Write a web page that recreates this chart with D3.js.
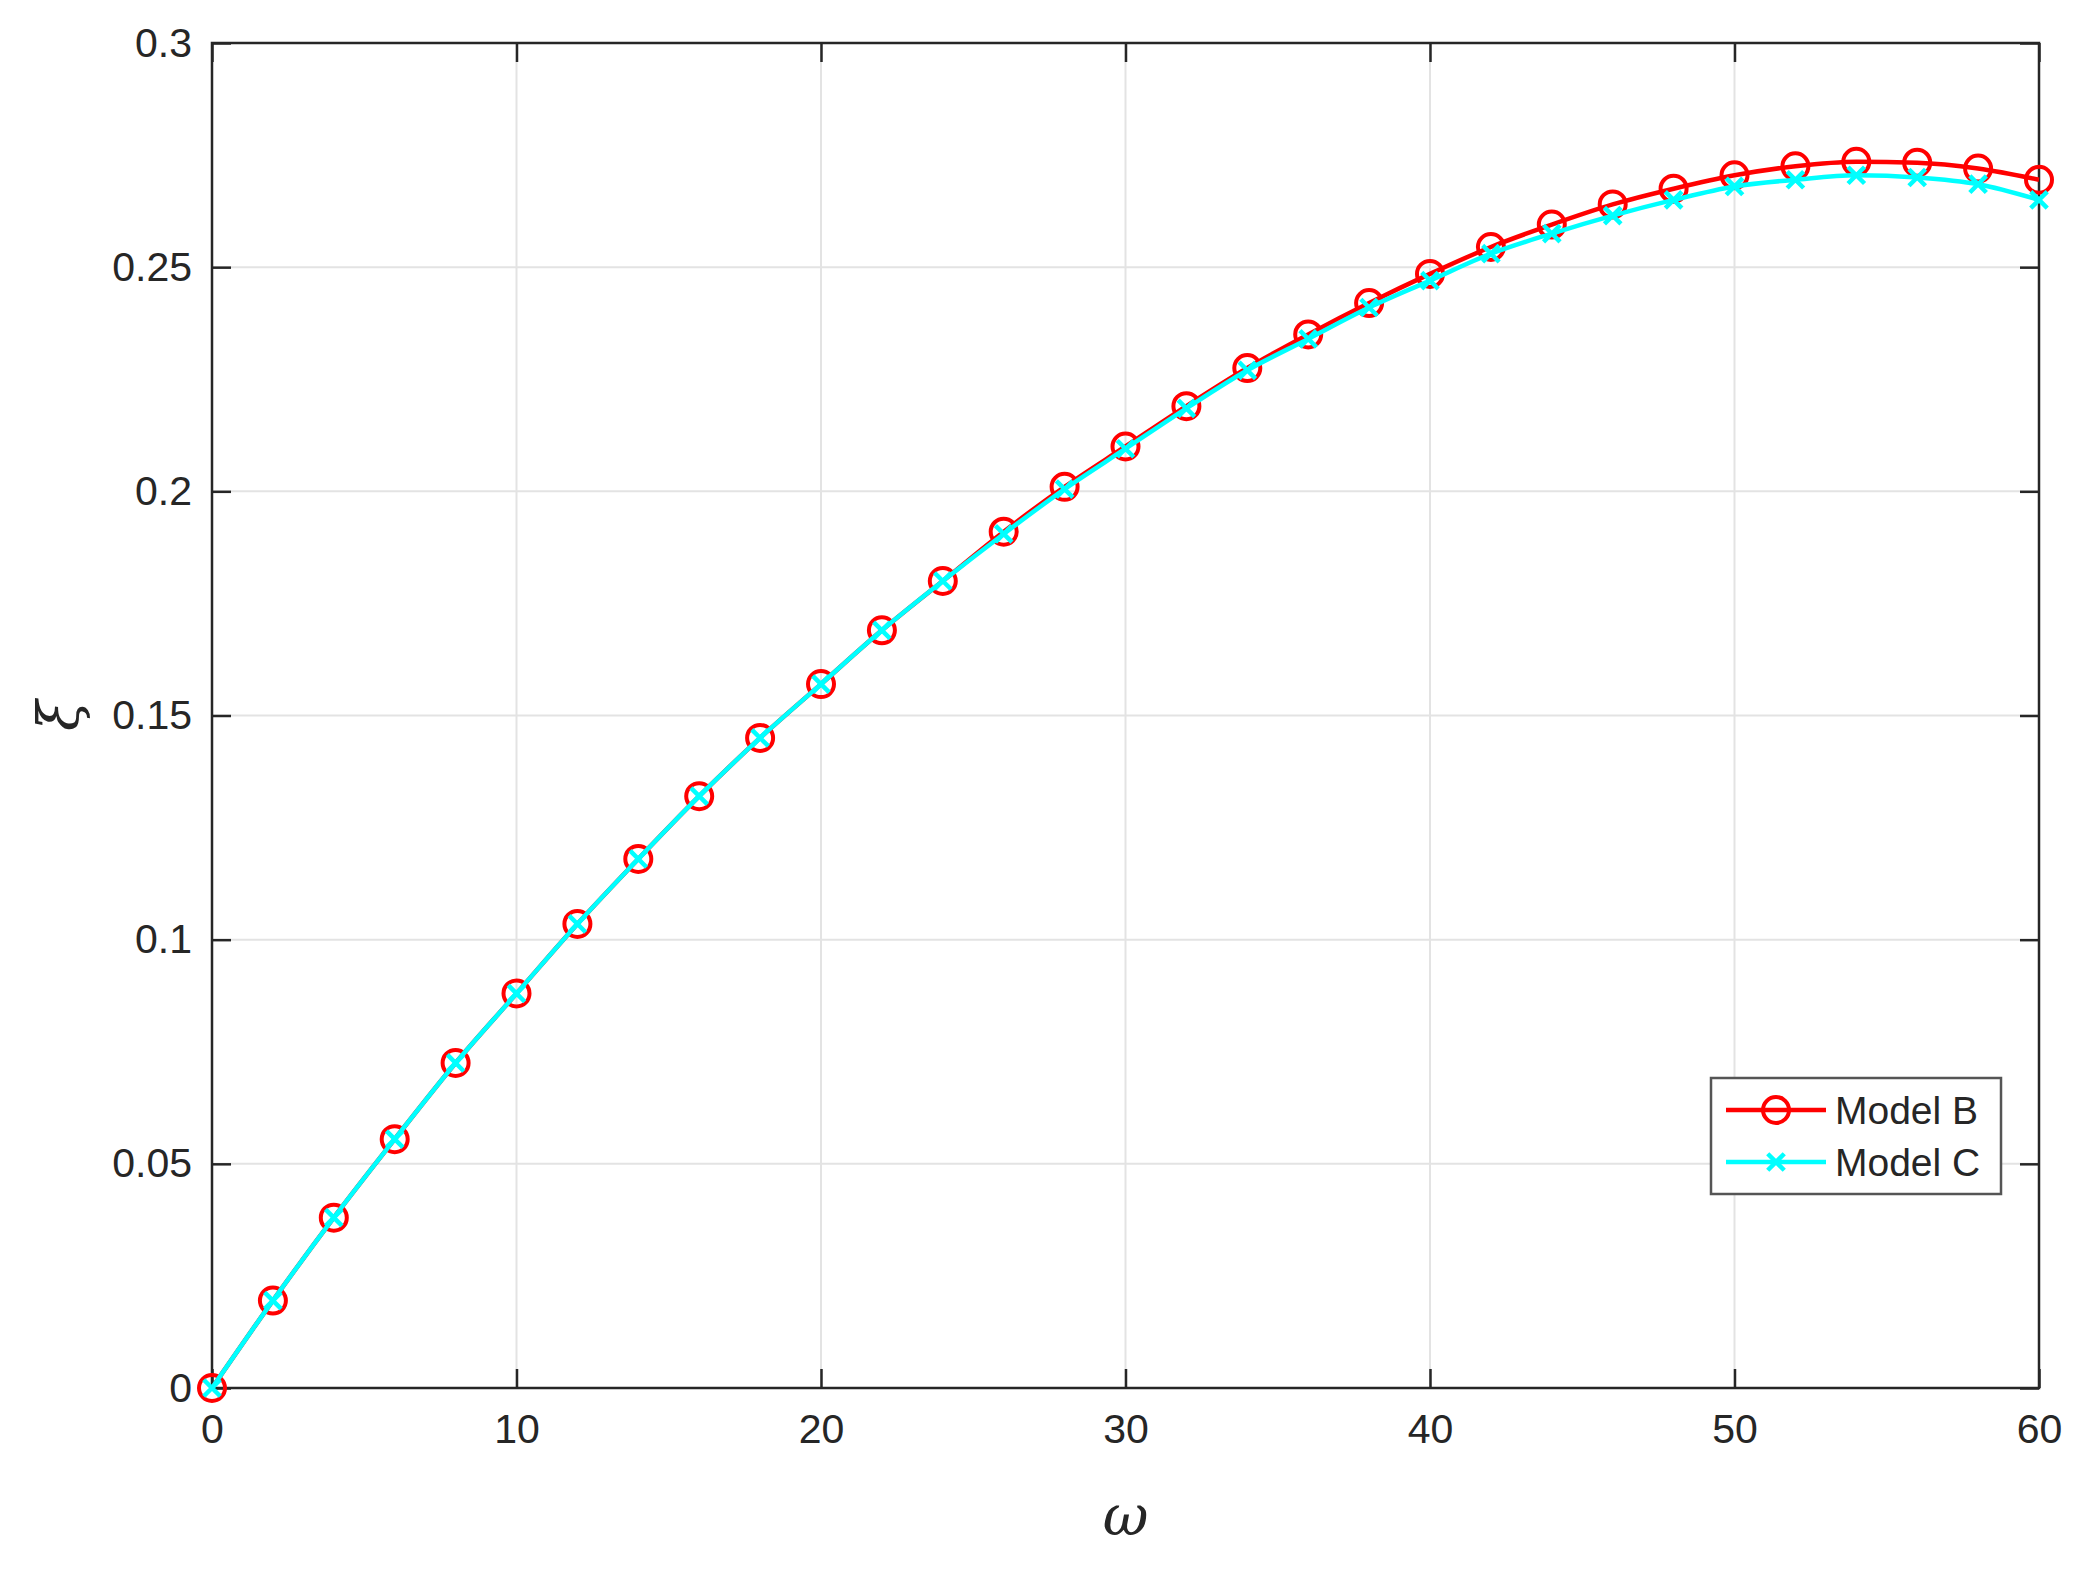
<!DOCTYPE html>
<html>
<head>
<meta charset="utf-8">
<script src="https://cdn.jsdelivr.net/npm/d3@7"></script>
<style>
  body { margin: 0; background: #fff; }
  text { font-family: Arial, "Liberation Sans", sans-serif; fill: #262626; }
</style>
</head>
<body>
<svg id="chart" width="2095" height="1569"></svg>
<script>
const omega = d3.range(0, 61, 2)
const modelB = [0, 0.0195, 0.038, 0.0555, 0.0725, 0.088, 0.1035, 0.118, 0.132, 0.145, 0.157,
	0.169, 0.180, 0.191, 0.201, 0.210, 0.219, 0.2275, 0.235, 0.242, 0.2485,
	0.2545, 0.2595, 0.264, 0.2675, 0.2705, 0.2725, 0.2735, 0.2733, 0.272, 0.2695]
const modelC = [0, 0.0195, 0.038, 0.0555, 0.0725, 0.088, 0.1035, 0.118, 0.132, 0.145, 0.157,
	0.169, 0.180, 0.1905, 0.2005, 0.2095, 0.2185, 0.227, 0.234, 0.241, 0.247,
	0.253, 0.2575, 0.2615, 0.265, 0.268, 0.2695, 0.2705, 0.270, 0.2685, 0.265]
const xTicks = [0, 10, 20, 30, 40, 50, 60]
const yTicks = [0, 0.05, 0.1, 0.15, 0.2, 0.25, 0.3]

const m = { left: 212, right: 2039, top: 43, bottom: 1388 }
const svg = d3.select('#chart')
const x = d3.scaleLinear().domain([0, 60]).range([m.left, m.right])
const y = d3.scaleLinear().domain([0, 0.3]).range([m.bottom, m.top])
const W = m.right - m.left, H = m.bottom - m.top

// grid
svg.append('g').selectAll('line').data(xTicks).enter().append('line')
	.attr('x1', d => x(d)).attr('x2', d => x(d)).attr('y1', m.top).attr('y2', m.bottom)
	.attr('stroke', '#e3e3e3').attr('stroke-width', 2)
svg.append('g').selectAll('line').data(yTicks).enter().append('line')
	.attr('y1', d => y(d)).attr('y2', d => y(d)).attr('x1', m.left).attr('x2', m.right)
	.attr('stroke', '#e3e3e3').attr('stroke-width', 2)

// axes (ticks inside, box on)
const tl = 19
const fmt = d => String(+d.toFixed(2))
const styleAxis = (g) => {
	g.select('.domain').remove()
	g.selectAll('line').attr('stroke', '#262626').attr('stroke-width', 2.5)
	g.selectAll('text').style('font-size', '41px').attr('fill', '#222')
}
svg.append('g').attr('transform', `translate(0,${m.bottom})`)
	.call(d3.axisBottom(x).tickValues(xTicks).tickSizeInner(-tl).tickSizeOuter(0).tickPadding(26).tickFormat(fmt))
	.call(styleAxis)
svg.append('g').attr('transform', `translate(0,${m.top})`)
	.call(d3.axisTop(x).tickValues(xTicks).tickSizeInner(-tl).tickSizeOuter(0).tickFormat(''))
	.call(styleAxis)
svg.append('g').attr('transform', `translate(${m.left},0)`)
	.call(d3.axisLeft(y).tickValues(yTicks).tickSizeInner(-tl).tickSizeOuter(0).tickPadding(20).tickFormat(fmt))
	.call(styleAxis)
svg.append('g').attr('transform', `translate(${m.right},0)`)
	.call(d3.axisRight(y).tickValues(yTicks).tickSizeInner(-tl).tickSizeOuter(0).tickFormat(''))
	.call(styleAxis)
svg.append('rect').attr('x', m.left).attr('y', m.top).attr('width', W).attr('height', H)
	.attr('fill', 'none').attr('stroke', '#262626').attr('stroke-width', 2.5)

// series
const line = d3.line().x((d, i) => x(omega[i])).y(d => y(d)).curve(d3.curveMonotoneX)
svg.append('path').datum(modelB).attr('d', line)
	.attr('fill', 'none').attr('stroke', '#ff0000').attr('stroke-width', 4.5)
svg.append('g').selectAll('circle').data(modelB).enter().append('circle')
	.attr('cx', (d, i) => x(omega[i])).attr('cy', d => y(d)).attr('r', 13)
	.attr('fill', 'none').attr('stroke', '#ff0000').attr('stroke-width', 4)
svg.append('path').datum(modelC).attr('d', line)
	.attr('fill', 'none').attr('stroke', '#00ffff').attr('stroke-width', 4.5)
const cross = d3.symbol().type(d3.symbolX).size(180)
svg.append('g').selectAll('path').data(modelC).enter().append('path')
	.attr('transform', (d, i) => `translate(${x(omega[i])},${y(d)})`)
	.attr('d', cross).attr('fill', 'none').attr('stroke', '#00ffff').attr('stroke-width', 4.5)

// legend
const lg = svg.append('g').attr('transform', 'translate(1711,1078)')
lg.append('rect').attr('width', 290).attr('height', 116)
	.attr('fill', '#fff').attr('stroke', '#555').attr('stroke-width', 2.5)
const items = [{ name: 'Model B', color: '#ff0000', mark: 'o' }, { name: 'Model C', color: '#00ffff', mark: 'x' }]
items.forEach((it, i) => {
	const cy = 32 + i * 52
	lg.append('line').attr('x1', 15).attr('x2', 115).attr('y1', cy).attr('y2', cy)
		.attr('stroke', it.color).attr('stroke-width', 4.5)
	if (it.mark === 'o') {
		lg.append('circle').attr('cx', 65).attr('cy', cy).attr('r', 13)
			.attr('fill', 'none').attr('stroke', it.color).attr('stroke-width', 4)
	} else {
		lg.append('path').attr('transform', `translate(65,${cy})`).attr('d', cross)
			.attr('fill', 'none').attr('stroke', it.color).attr('stroke-width', 4.5)
	}
	lg.append('text').attr('x', 124).attr('y', cy + 14).style('font-size', '39px').attr('fill', '#111').text(it.name)
})

// axis titles
svg.append('text').attr('x', (m.left + m.right) / 2).attr('y', 1535).attr('text-anchor', 'middle')
	.style('font-size', '56px').style('font-style', 'italic').style('font-family', 'DejaVu Serif, serif').text('ω')
svg.append('text').attr('transform', `translate(78,${(m.top + m.bottom) / 2}) rotate(-90)`).attr('text-anchor', 'middle')
	.style('font-size', '56px').style('font-style', 'italic').style('font-family', 'DejaVu Serif, serif').text('ξ')
</script>
</body>
</html>
